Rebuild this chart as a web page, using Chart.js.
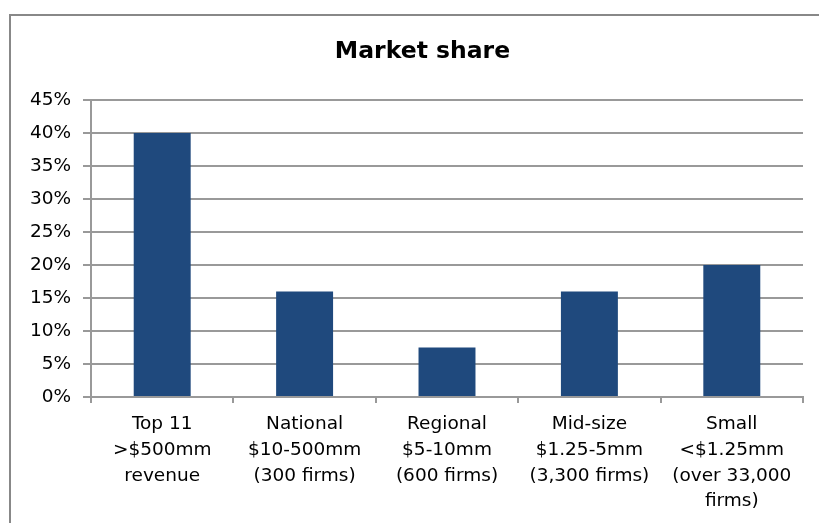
<!DOCTYPE html>
<html>
<head>
<meta charset="utf-8">
<script src="https://cdn.jsdelivr.net/npm/chart.js@4/dist/chart.umd.min.js"></script>
<style>
  html, body { margin: 0; padding: 0; background: #fff; overflow: hidden; }
  #frame { position: absolute; left: 9px; top: 14px; width: 900px; height: 600px; border: 2px solid #888; box-sizing: border-box; }
  #c { position: absolute; left: 0; top: 0; }
</style>
</head>
<body>
<div id="frame"></div>
<canvas id="c" width="819" height="523"></canvas>
<script>
const chartTitle = "Market share";
const categories = [
  ["Top 11", ">$500mm", "revenue"],
  ["National", "$10-500mm", "(300 firms)"],
  ["Regional", "$5-10mm", "(600 firms)"],
  ["Mid-size", "$1.25-5mm", "(3,300 firms)"],
  ["Small", "<$1.25mm", "(over 33,000", "firms)"]
];
const shareValues = [40, 16, 7.5, 16, 20];
const yTickMin = 0, yTickMax = 45, yTickStep = 5;

const FONT = "'DejaVu Sans', Verdana, sans-serif";
const GRID = '#999999';

// Shift the title box so it is centred where the reference's title is
const titleShift = {
  id: 'titleShift',
  afterLayout(chart) {
    if (chart.titleBlock) { chart.titleBlock.left = 42; }
  }
};

new Chart(document.getElementById('c'), {
  type: 'bar',
  data: {
    labels: categories,
    datasets: [{
      label: chartTitle,
      data: shareValues,
      backgroundColor: '#1F497D',
      borderWidth: 0,
      barPercentage: 0.4,
      categoryPercentage: 1.0
    }]
  },
  options: {
    responsive: false,
    devicePixelRatio: 1,
    animation: false,
    layout: { padding: { left: 0, right: 16, top: 0, bottom: 0 } },
    plugins: {
      legend: { display: false },
      tooltip: { enabled: false },
      title: {
        display: true,
        text: chartTitle,
        color: '#000',
        font: { family: FONT, size: 23.5, weight: 'bold', lineHeight: 1.2 },
        padding: { top: 38, bottom: 33.8 }
      }
    },
    scales: {
      x: {
        afterFit: s => { s.height = 126; },
        grid: {
          display: true, drawOnChartArea: false, drawTicks: true,
          tickLength: 6, offset: true, color: GRID, lineWidth: 2
        },
        border: { display: true, color: GRID, width: 2 },
        ticks: {
          color: '#000', maxRotation: 0, autoSkip: false, padding: 8,
          font: { family: FONT, size: 18.5, lineHeight: 1.4 }
        }
      },
      y: {
        min: yTickMin, max: yTickMax,
        afterFit: s => { s.width = 91; },
        grid: { color: GRID, lineWidth: 2, tickLength: 8, drawTicks: true },
        border: { display: true, color: GRID, width: 2 },
        ticks: {
          stepSize: yTickStep, color: '#000', padding: 12,
          font: { family: FONT, size: 18.5 },
          callback: v => v + '%'
        }
      }
    }
  },
  plugins: [titleShift]
});
</script>
</body>
</html>
